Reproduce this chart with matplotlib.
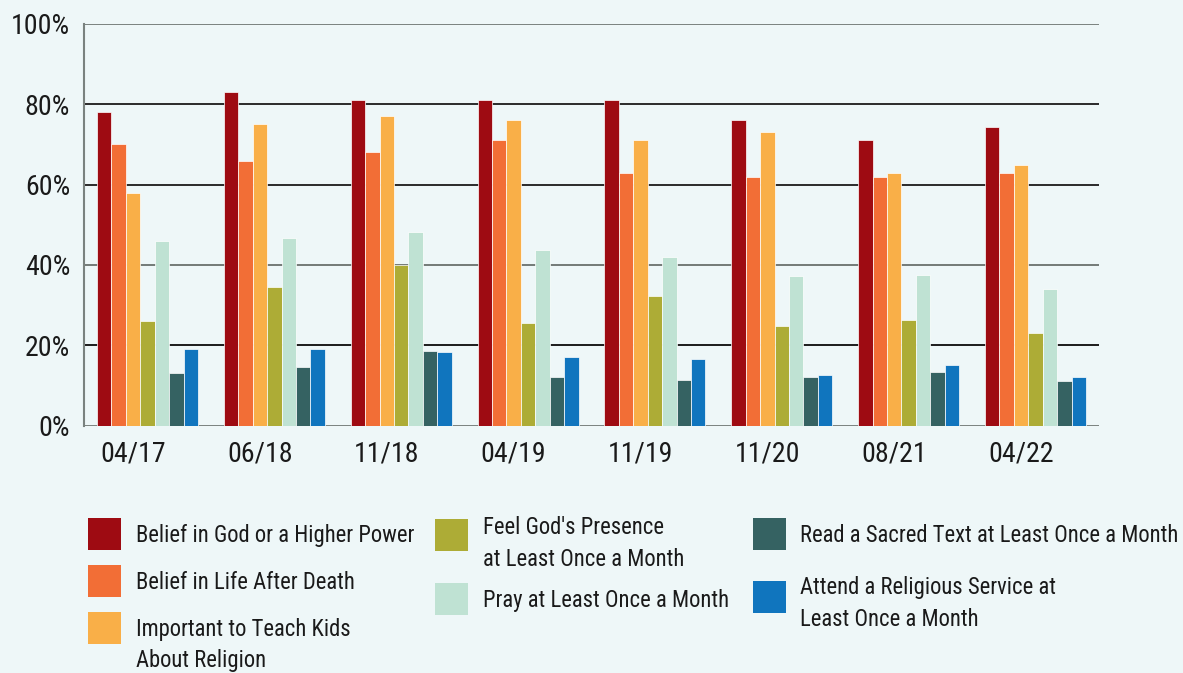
import numpy as np
import matplotlib
matplotlib.use("Agg")
import matplotlib.pyplot as plt
from matplotlib.patches import Rectangle
from matplotlib import font_manager as fm

# ---- data ----
categories = ["04/17", "06/18", "11/18", "04/19", "11/19", "11/20", "08/21", "04/22"]
series_names = [
    "Belief in God or a Higher Power",
    "Belief in Life After Death",
    "Important to Teach Kids\nAbout Religion",
    "Feel God's Presence\nat Least Once a Month",
    "Pray at Least Once a Month",
    "Read a Sacred Text at Least Once a Month",
    "Attend a Religious Service at\nLeast Once a Month",
]
belief_god = [78, 83, 81, 81, 81, 76, 71, 74.3]
life_after_death = [70, 66, 68, 71, 63, 62, 62, 63]
teach_kids = [58, 75, 77, 76, 71, 73, 63, 65]
feel_presence = [26, 34.5, 40, 25.5, 32.3, 24.8, 26.3, 23.1]
pray = [46, 46.7, 48.2, 43.7, 41.9, 37.3, 37.5, 34]
read_text = [13, 14.6, 18.6, 12.1, 11.4, 12.1, 13.4, 11.1]
attend_service = [19, 19, 18.3, 17.1, 16.6, 12.6, 15, 12.1]
series_values = [belief_god, life_after_death, teach_kids, feel_presence,
                 pray, read_text, attend_service]
colors = ["#9e0b12", "#f26e36", "#f9af48", "#adac36", "#bfe2d3", "#356262", "#1075be"]
y_ticks = [0, 20, 40, 60, 80, 100]
y_tick_labels = ["0%", "20%", "40%", "60%", "80%", "100%"]
grid_colors = ["#7a827f", "#1c1c1c", "#737a77", "#2a2a2a", "#2a2a2a", "#7a827f"]

# ---- pick a condensed font if one is installed ----
names = {f.name for f in fm.fontManager.ttflist}
stretch_of = {}
for f in fm.fontManager.ttflist:
    if f.stretch in ("condensed", "semi-condensed", "extra-condensed"):
        stretch_of.setdefault(f.name, f.stretch)
family, stretch = "DejaVu Sans", "normal"
for cand in ["Roboto Condensed", "Open Sans Condensed", "Liberation Sans Narrow",
             "Noto Sans Condensed", "Inter Condensed"]:
    if cand in names:
        family = cand
        break
else:
    for cand in ["Roboto", "Open Sans", "Noto Sans", "DejaVu Sans", "Liberation Sans"]:
        if cand in stretch_of:
            family, stretch = cand, stretch_of[cand]
            break
plt.rcParams['font.family'] = [family, 'DejaVu Sans']
plt.rcParams['font.stretch'] = stretch

BG = "#eef7f8"
W, H = 1183, 673
fig = plt.figure(figsize=(W / 100, H / 100), dpi=100, facecolor=BG)
renderer = fig.canvas.get_renderer()


def fit_size(text, target_px, base=20.0):
    t = fig.text(0, 0, text, fontsize=base)
    w = t.get_window_extent(renderer).width
    t.remove()
    return base * target_px / w


tick_fs = fit_size("100%", 59)
leg_fs = fit_size("Belief in God or a Higher Power", 277)

ax = fig.add_axes([84 / W, 1 - 425.5 / H, (1099 - 84) / W, (425.5 - 24) / H])
ax.set_facecolor(BG)

x = np.arange(len(categories))
bw = 0.1137
n = len(series_values)
for j, (vals, c) in enumerate(zip(series_values, colors)):
    ax.bar(x + (j - (n - 1) / 2) * bw, vals, width=bw, color=c,
           edgecolor="white", linewidth=0.5, zorder=3)

for yv, gc in zip(y_ticks, grid_colors):
    ax.axhline(yv, color=gc, linewidth=1.4, zorder=1)

ax.set_xlim(-0.5, len(categories) - 0.5)
ax.set_ylim(0, 100)
ax.set_yticks(y_ticks)
ax.set_yticklabels(y_tick_labels, fontsize=tick_fs, color="#1a1a1a")
ax.set_xticks(x - 0.114)
ax.set_xticklabels(categories, fontsize=tick_fs, color="#1a1a1a")
ax.tick_params(axis="y", length=0, pad=10)
ax.tick_params(axis="x", length=0, pad=10.5)
for s in ["top", "right", "bottom"]:
    ax.spines[s].set_visible(False)
ax.spines["left"].set_color("#7a827f")
ax.spines["left"].set_linewidth(1.5)

# ---- legend (manual layout) ----
# (patch_x, patch_top, text_x, first_baseline) in pixels
legend_layout = [
    (88, 518, 136, 542),
    (88, 565, 136, 589),
    (88, 612, 136, 636),
    (435, 519, 483, 534),
    (435, 583, 483, 607),
    (753, 518, 800, 542),
    (753, 581, 800, 594),
]
for (px, pt, tx, tb), name, c in zip(legend_layout, series_names, colors):
    fig.patches.append(Rectangle((px / W, 1 - (pt + 32) / H), 33 / W, 32 / H,
                                 transform=fig.transFigure, facecolor=c,
                                 edgecolor="none"))
    for k, line in enumerate(name.split("\n")):
        fig.text(tx / W, 1 - (tb + 31.5 * k) / H, line, fontsize=leg_fs,
                 color="#1a1a1a", va="baseline", ha="left")

fig.savefig("out.png", dpi=100, facecolor=BG)
